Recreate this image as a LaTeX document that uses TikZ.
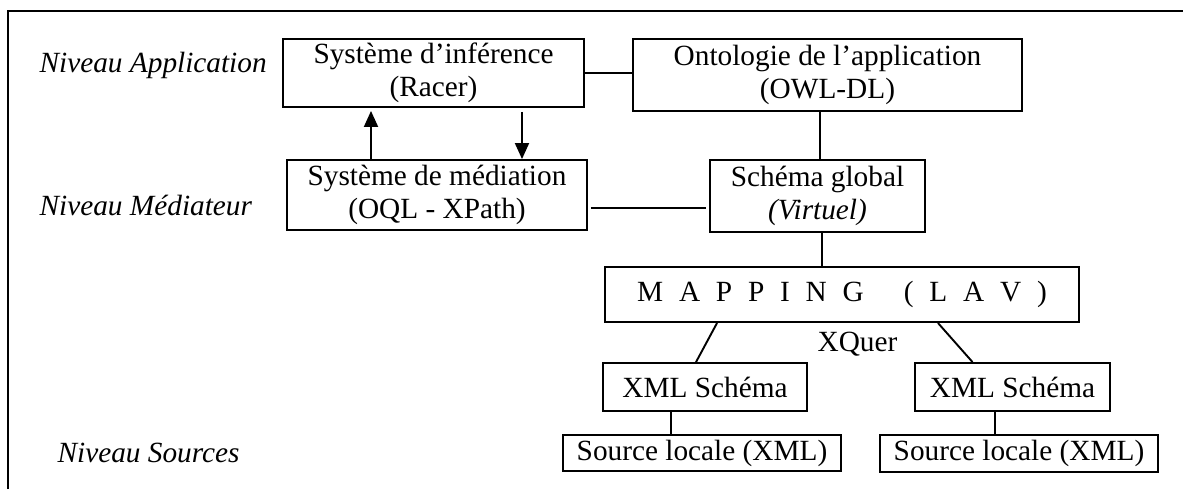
\documentclass[tikz,border=0pt]{standalone}
\usepackage{fontspec}
\setmainfont{Liberation Serif}
\usetikzlibrary{arrows.meta}

\begin{document}
\begin{tikzpicture}[x=0.5pt, y=-0.5pt, line width=0.95pt,
        box/.style={draw, align=center, inner sep=0pt, font=\fontsize{14.65}{16.5}\selectfont},
        level/.style={anchor=base west, font=\fontsize{14.65}{16.5}\selectfont\itshape}]
        \useasboundingbox (0,0) rectangle (1183,489);
        \draw (8,489) -- (8,11) -- (1183,11);

        % les niveaux
        \node[level] (lapp) at (32,72) {Niveau Application};
        \node[level] (lmed) at (32,215) {Niveau Médiateur};
        \node[level] (lsrc) at (50,462) {Niveau Sources};

        % les boites
        \node[box, minimum width=150.5pt, minimum height=34pt] (infer) at (433.5,73) {Système d’inférence\\(Racer)};
        \node[box, minimum width=194.5pt, minimum height=36pt] (onto) at (827.5,75) {Ontologie de l’application\\(OWL-DL)};
        \node[box, minimum width=150pt, minimum height=35pt] (med) at (437,195) {Système de médiation\\(OQL - XPath)};
        \node[box, minimum width=107.5pt, minimum height=36pt] (glob) at (817.5,196) {Schéma global\\\textit{(Virtuel)}};
        \node[box, minimum width=237pt, minimum height=27.5pt] (map) at (842,294.5) {\spaceskip=7.9pt M A P P I N G\hspace{20pt}( L A V )};
        \node[box, minimum width=102pt, minimum height=24pt] (xsl) at (705,387) {XML Schéma};
        \node[box, minimum width=97.5pt, minimum height=24pt] (xsr) at (1012.5,387) {XML Schéma};
        \node[box, minimum width=139pt, minimum height=18pt] (srcl) at (702,453) {Source locale (XML)};
        \node[box, minimum width=139pt, minimum height=18.5pt] (srcr) at (1019,453.5) {Source locale (XML)};
        \node[level, font=\fontsize{14.65}{16.5}\selectfont] (xq) at (810,351) {XQuer};

        % liaisons
        \draw (infer.east) -- (infer.east -| onto.west);
        \draw[-{Triangle[width=7pt,length=8pt]}, shorten >=1.5pt] ([xshift=-33pt]med.north) -- ([xshift=-33pt]med.north |- infer.south);
        \draw[-{Triangle[width=7pt,length=8pt]}, shorten <=2pt] ([xshift=42.5pt]med.north |- infer.south) -- ([xshift=42.5pt]med.north);
        \draw ([xshift=1.5pt,yshift=-6.5pt]med.east) -- ([xshift=-1.5pt,yshift=-6.5pt]med.east -| glob.west);
        \draw ([xshift=1.25pt]glob.north) -- ([xshift=1.25pt]glob.north |- onto.south);
        \draw ([xshift=2.25pt]glob.south) -- ([xshift=2.25pt]glob.south |- map.north);
        \draw ([xshift=56.5pt]map.south west) -- ([xshift=-4.5pt]xsl.north);
        \draw ([xshift=-71pt]map.south east) -- ([xshift=-20pt]xsr.north);
        \draw ([xshift=-17pt]xsl.south) -- ([xshift=-17pt]xsl.south |- srcl.north);
        \draw ([xshift=-8.75pt]xsr.south) -- ([xshift=-8.75pt]xsr.south |- srcr.north);
\end{tikzpicture}
\end{document}
